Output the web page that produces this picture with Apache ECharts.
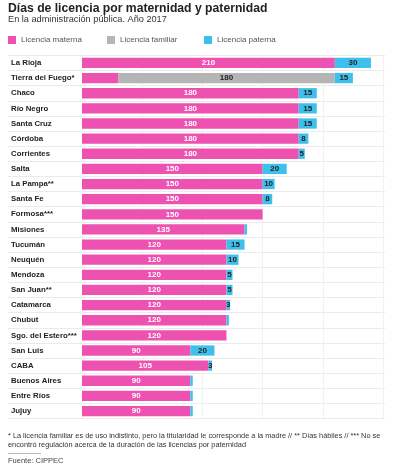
<!DOCTYPE html>
<html><head><meta charset="utf-8">
<script src="https://cdn.jsdelivr.net/npm/echarts@6/dist/echarts.min.js"></script>
<style>html,body{margin:0;padding:0;background:#fff}#c{width:400px;height:474px}</style>
</head><body><div id="c"></div>
<script>
const categories = ['La Rioja','Tierra del Fuego*','Chaco','Río Negro','Santa Cruz','Córdoba','Corrientes','Salta','La Pampa**','Santa Fe','Formosa***','Misiones','Tucumán','Neuquén','Mendoza','San Juan**','Catamarca','Chubut','Sgo. del Estero***','San Luis','CABA','Buenos Aires','Entre Ríos','Jujuy'];
const materna = [210,30,180,180,180,180,180,150,150,150,150,135,120,120,120,120,120,120,120,90,105,90,90,90];
const familiar = [0,180,0,0,0,0,0,0,0,0,0,0,0,0,0,0,0,0,0,0,0,0,0,0];
const paterna = [30,15,15,15,15,8,5,20,10,8,0,2,15,10,5,5,3,2,0,20,3,2,2,2];
const seriesNames = ['Licencia materna','Licencia familiar','Licencia paterna'];
const xTicks = [0,50,100,150,200,250];

const PINK='#ee52b0', GRAY='#b5b5b5', BLUE='#3fc0ec';
const FF='Liberation Sans, Arial, sans-serif';
const TOP=55.4, BOT=55.4;
const chart = echarts.init(document.getElementById('c'), null, {renderer:'canvas'});
const lblFont = {fontFamily:FF, fontWeight:'bold', fontSize:8};
chart.setOption({
  animation:false,
  textStyle:{fontFamily:FF},
  title:[
    {text:'Días de licencia por maternidad y paternidad', left:3, top:-2,
     textStyle:{fontSize:12.2, fontWeight:'bold', color:'#222', fontFamily:FF}},
    {text:'En la administración pública. Año 2017', left:3, top:10,
     textStyle:{fontSize:9.2, fontWeight:'normal', color:'#333', fontFamily:FF}}
  ],
  legend:[
    {data:[seriesNames[0]], left:3, top:31, itemWidth:8, itemHeight:8, icon:'rect', textStyle:{fontSize:8, color:'#555'}},
    {data:[seriesNames[1]], left:102, top:31, itemWidth:8, itemHeight:8, icon:'rect', textStyle:{fontSize:8, color:'#555'}},
    {data:[seriesNames[2]], left:199, top:31, itemWidth:8, itemHeight:8, icon:'rect', textStyle:{fontSize:8, color:'#555'}}
  ],
  grid:[
    {left:8, right:15, top:TOP, bottom:BOT, containLabel:false},
    {left:82, right:17, top:TOP, bottom:BOT, containLabel:false}
  ],
  xAxis:[
    {gridIndex:0, type:'value', show:false, min:0, max:1},
    {gridIndex:1, type:'value', min:xTicks[0], max:xTicks[xTicks.length-1], interval:50,
     axisLabel:{show:false}, axisLine:{show:false}, axisTick:{show:false},
     splitLine:{show:true, lineStyle:{color:'#f1f1f1', width:1}}}
  ],
  yAxis:[
    {gridIndex:0, type:'category', data:categories, inverse:true,
     axisLabel:{show:false, interval:0}, axisLine:{show:false}, axisTick:{show:false, interval:0},
     splitLine:{show:true, interval:0, lineStyle:{color:'#ebebeb', width:1}}},
    {gridIndex:1, type:'category', data:categories, inverse:true,
     axisLine:{show:false}, axisTick:{show:false}, splitLine:{show:false},
     axisLabel:{interval:0, align:'left', margin:71, color:'#222', fontSize:7.8, fontWeight:'bold', fontFamily:FF}}
  ],
  series:[
    {name:seriesNames[0], type:'bar', stack:'t', xAxisIndex:1, yAxisIndex:1, data:materna, barWidth:'68%',
     itemStyle:{color:PINK},
     label:{show:true, position:'inside', color:'#fff', ...lblFont, formatter:p=>p.value>=50?p.value:''}},
    {name:seriesNames[1], type:'bar', stack:'t', xAxisIndex:1, yAxisIndex:1, data:familiar, barWidth:'68%',
     itemStyle:{color:GRAY},
     label:{show:true, position:'inside', color:'#222', ...lblFont, formatter:p=>p.value>0?p.value:''}},
    {name:seriesNames[2], type:'bar', stack:'t', xAxisIndex:1, yAxisIndex:1, data:paterna, barWidth:'68%',
     itemStyle:{color:BLUE},
     label:{show:true, position:'inside', color:'#222', ...lblFont, formatter:p=>p.value>=3?p.value:''}}
  ],
  graphic:[
    {type:'text', left:8, top:432, style:{text:'* La licencia familiar es de uso indistinto, pero la titularidad le corresponde a la madre // ** Días hábiles // *** No se', fontSize:7.35, fill:'#333', fontFamily:FF}},
    {type:'text', left:8, top:441, style:{text:'encontró regulación acerca de la duración de las licencias por paternidad', fontSize:7.35, fill:'#333', fontFamily:FF}},
    {type:'line', shape:{x1:8, y1:453.5, x2:41, y2:453.5}, style:{stroke:'#bbb', lineWidth:1}},
    {type:'text', left:8, top:457, style:{text:'Fuente: CIPPEC', fontSize:7.5, fill:'#444', fontFamily:FF}}
  ]
});
</script></body></html>
